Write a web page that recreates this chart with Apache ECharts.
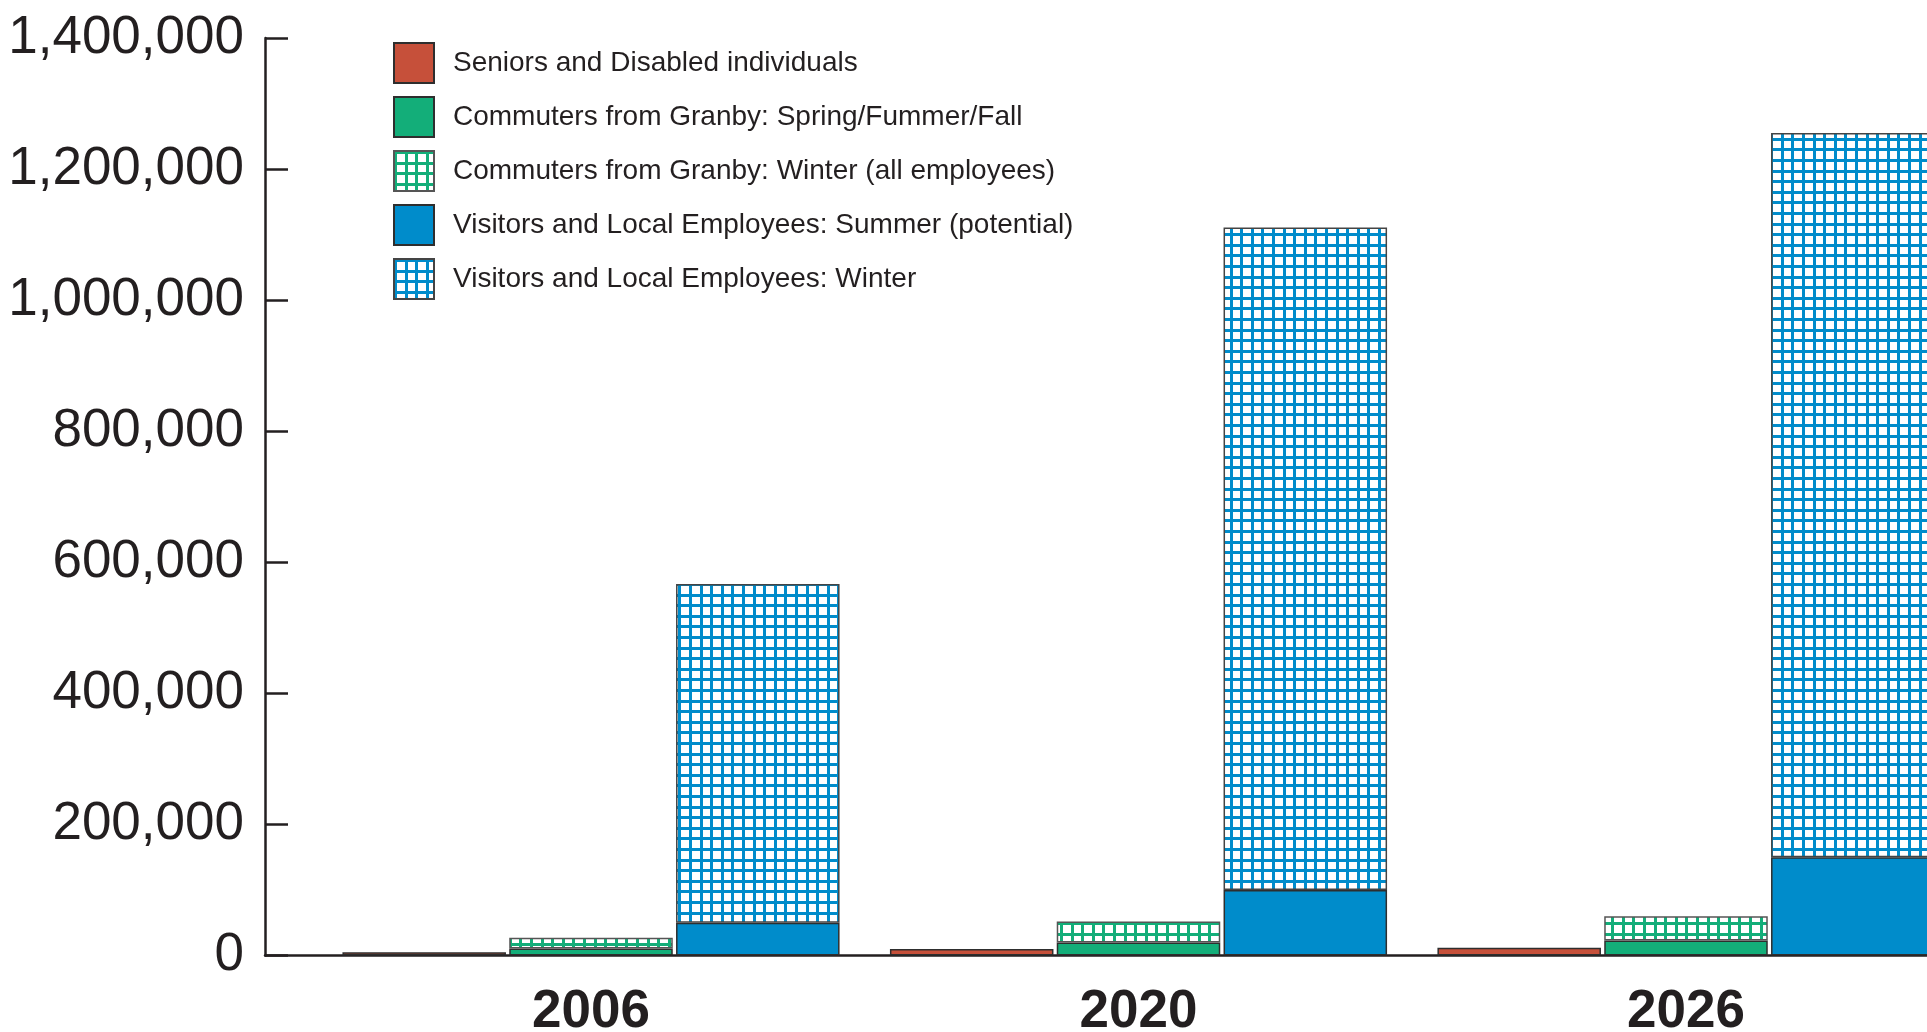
<!DOCTYPE html>
<html>
<head>
<meta charset="utf-8">
<script src="https://cdn.jsdelivr.net/npm/echarts@6/dist/echarts.min.js"></script>
<style>
html,body{margin:0;padding:0;background:#fff;}
#chart{width:1927px;height:1032px;}
</style>
</head>
<body>
<div id="chart"></div>
<script>
var categories = ['2006', '2020', '2026'];
var seriesNames = [
  'Seniors and Disabled individuals',
  'Commuters from Granby: Spring/Fummer/Fall',
  'Commuters from Granby: Winter (all employees)',
  'Visitors and Local Employees: Summer (potential)',
  'Visitors and Local Employees: Winter'
];
var seniors = [5000, 10000, 12000];
var commutersSummer = [10500, 20000, 23000];
var commutersWinter = [16500, 32000, 37000];
var visitorsSummer = [50000, 100000, 150000];
var visitorsWinter = [517000, 1011000, 1105000];
var yTicks = [0, 200000, 400000, 600000, 800000, 1000000, 1200000, 1400000];

var RED = '#C6503A', GREEN = '#13AE79', BLUE = '#008CCB', INK = '#231f20', EDGE = '#2e2e2e';

function grid(color) {
  var c = document.createElement('canvas');
  c.width = 53; c.height = 53;
  var g = c.getContext('2d');
  g.fillStyle = '#fff'; g.fillRect(0, 0, 53, 53);
  g.fillStyle = color;
  [0, 11, 21, 32, 42].forEach(function (p) {
    g.fillRect(p, 0, 3, 53);
    g.fillRect(0, p, 53, 3);
  });
  return { image: c, repeat: 'repeat' };
}

var chart = echarts.init(document.getElementById('chart'), null, { renderer: 'canvas' });
var fmt = function (v) { return v.toLocaleString('en-US'); };

chart.setOption({
  animation: false,
  backgroundColor: '#fff',
  textStyle: { fontFamily: 'Liberation Sans, Arial, sans-serif' },
  grid: [
    { left: 265, right: 0, top: 38, bottom: 76.5, outerBoundsMode: 'none', containLabel: false },
    { left: 317.25, width: 1642.5, top: 38, bottom: 76.5, outerBoundsMode: 'none', containLabel: false }
  ],
  legend: {
    orient: 'vertical', left: 393, top: 42, padding: 0,
    itemWidth: 40, itemHeight: 40, itemGap: 12,
    icon: 'rect',
    textStyle: { fontSize: 28, color: INK, fontFamily: 'Liberation Sans, Arial, sans-serif', padding: [0, 0, 0, 14] },
    data: seriesNames
  },
  xAxis: [
    { type: 'category', gridIndex: 0, data: [''],
      axisLine: { show: true, lineStyle: { color: INK, width: 2.5 } },
      axisTick: { show: false }, axisLabel: { show: false }, splitLine: { show: false } },
    { type: 'category', gridIndex: 1, data: categories,
      axisLine: { show: false }, axisTick: { show: false },
      axisLabel: { fontSize: 53, fontWeight: 'bold', color: INK, margin: 30,
        fontFamily: 'Liberation Sans, Arial, sans-serif' } }
  ],
  yAxis: [
    { type: 'value', gridIndex: 0, min: 0, max: 1400000, interval: 200000,
      axisLine: { show: true, lineStyle: { color: INK, width: 2.5 } },
      axisTick: { show: true, inside: true, length: 23, lineStyle: { color: INK, width: 2.5 } },
      splitLine: { show: false },
      axisLabel: { fontSize: 53, color: INK, margin: 21, padding: [0, 0, 7, 0],
        fontFamily: 'Liberation Sans, Arial, sans-serif',
        formatter: function (v) { return yTicks.indexOf(v) >= 0 ? fmt(v) : ''; } } },
    { type: 'value', gridIndex: 1, min: 0, max: 1400000, interval: 200000, show: false }
  ],
  series: [
    { name: seriesNames[0], type: 'bar', xAxisIndex: 1, yAxisIndex: 1, data: seniors,
      barGap: '2%', barCategoryGap: '9.2%',
      itemStyle: { color: RED, borderColor: EDGE, borderWidth: 1.5 } },
    { name: seriesNames[1], type: 'bar', xAxisIndex: 1, yAxisIndex: 1, stack: 'c', data: commutersSummer,
      itemStyle: { color: GREEN, borderColor: EDGE, borderWidth: 1.5 } },
    { name: seriesNames[2], type: 'bar', xAxisIndex: 1, yAxisIndex: 1, stack: 'c', data: commutersWinter,
      itemStyle: { color: grid(GREEN), borderColor: '#555', borderWidth: 1.5 } },
    { name: seriesNames[3], type: 'bar', xAxisIndex: 1, yAxisIndex: 1, stack: 'v', data: visitorsSummer,
      itemStyle: { color: BLUE, borderColor: EDGE, borderWidth: 1.5 } },
    { name: seriesNames[4], type: 'bar', xAxisIndex: 1, yAxisIndex: 1, stack: 'v', data: visitorsWinter,
      itemStyle: { color: grid(BLUE), borderColor: '#444', borderWidth: 1.5 } }
  ]
});
</script>
</body>
</html>
